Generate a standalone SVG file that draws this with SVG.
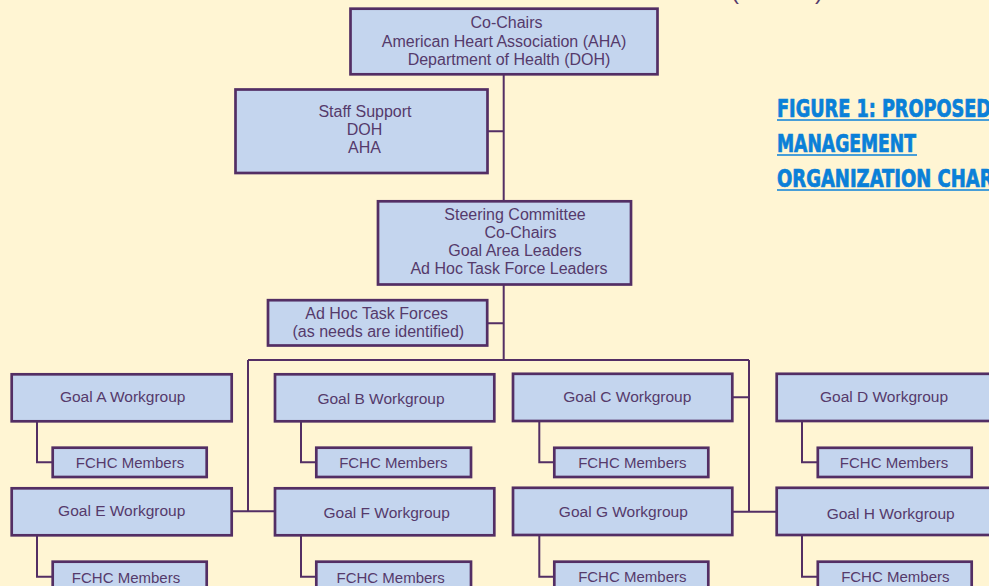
<svg xmlns="http://www.w3.org/2000/svg" width="989" height="586" viewBox="0 0 989 586">
<style>
.bg{fill:#FFF5D3}
.box{fill:#C4D5EE;stroke:#532E64;stroke-width:2.7}
.t{font-family:"Liberation Sans",Arial,sans-serif;fill:#553A6B;text-anchor:middle}
.t16{font-size:16px}
.t155{font-size:15.5px}
.t15{font-size:15px}
.conn{fill:none;stroke:#532E64;stroke-width:2}
.title{font-family:"DejaVu Sans Condensed","DejaVu Sans",sans-serif;font-weight:bold;font-size:24px;fill:#0A80D8;stroke:#0A80D8;stroke-width:0.7}
.ul{stroke:#0A80D8;stroke-width:1.6}
.par{font-family:"Liberation Sans",Arial,sans-serif;font-size:24px;fill:#553A6B}
</style>
<rect class="bg" x="0" y="0" width="989" height="586"/>
<text class="par" x="731" y="-1">(</text>
<text class="par" x="815" y="-1">)</text>
<g id="title">
<text class="title" x="777" y="117" textLength="214" lengthAdjust="spacingAndGlyphs">FIGURE 1: PROPOSED</text>
<line class="ul" x1="777" y1="120" x2="992" y2="120"/>
<text class="title" x="777" y="152" textLength="139" lengthAdjust="spacingAndGlyphs">MANAGEMENT</text>
<line class="ul" x1="777" y1="155" x2="917" y2="155"/>
<text class="title" x="777" y="187" textLength="228" lengthAdjust="spacingAndGlyphs">ORGANIZATION CHART</text>
<line class="ul" x1="777" y1="190" x2="1006" y2="190"/>
</g>
<g id="connectors">
<path class="conn" d="M503.7 74 V201.3 M503.7 284.5 V360"/>
<path class="conn" d="M487.5 131.3 H503.7 M487.5 323.3 H503.7"/>
<path class="conn" d="M248 360 H749 M248 360 V511.3 M749 360 V511.7"/>
<path class="conn" d="M231.7 511.3 H275 M732.3 397.3 H749 M732.3 511.7 H776.7"/>
<path class="conn" d="M37 421.3 V462.3 H52.7 M301 421.3 V462.3 H316.3 M539.3 421 V462.3 H554.3 M802 421 V462.3 H817.8"/>
<path class="conn" d="M37 535.3 V576.7 H52.7 M301 535.3 V576.7 H316.3 M539.3 535 V576.7 H554.3 M802 535 V576.7 H817.8"/>
</g>
<g id="cochairs">
<rect class="box" x="350.5" y="8.7" width="307" height="65.6"/>
<text class="t t16" x="506.5" y="28">Co-Chairs</text>
<text class="t t16" x="504" y="46.5">American Heart Association (AHA)</text>
<text class="t t16" x="509" y="65">Department of Health (DOH)</text>
</g>
<g id="staff">
<rect class="box" x="235.5" y="89.5" width="252" height="83.5"/>
<text class="t t16" x="365" y="117">Staff Support</text>
<text class="t t16" x="364.5" y="135">DOH</text>
<text class="t t16" x="364.5" y="153">AHA</text>
</g>
<g id="steering">
<rect class="box" x="378" y="201.3" width="253" height="83.2"/>
<text class="t t16" x="515" y="220">Steering Committee</text>
<text class="t t16" x="520.5" y="238">Co-Chairs</text>
<text class="t t16" x="515" y="256">Goal Area Leaders</text>
<text class="t t16" x="509" y="274">Ad Hoc Task Force Leaders</text>
</g>
<g id="adhoc">
<rect class="box" x="268" y="300.2" width="219.2" height="45.3"/>
<text class="t t16" x="376.7" y="318.5">Ad Hoc Task Forces</text>
<text class="t t16" x="378.3" y="336.5">(as needs are identified)</text>
</g>
<g id="goalA">
<rect class="box" x="11.7" y="374.3" width="220" height="47"/>
<text class="t t155" x="122.7" y="402">Goal A Workgroup</text>
</g>
<g id="fchcA">
<rect class="box" x="52.7" y="447.7" width="154" height="29.3"/>
<text class="t t15" x="130" y="467.5">FCHC Members</text>
</g>
<g id="goalB">
<rect class="box" x="275" y="374.3" width="219.3" height="47"/>
<text class="t t155" x="381" y="404">Goal B Workgroup</text>
</g>
<g id="fchcB">
<rect class="box" x="316.3" y="447.7" width="154.7" height="29.3"/>
<text class="t t15" x="393.3" y="467.5">FCHC Members</text>
</g>
<g id="goalC">
<rect class="box" x="513" y="373.8" width="219.3" height="47.2"/>
<text class="t t155" x="627.3" y="401.7">Goal C Workgroup</text>
</g>
<g id="fchcC">
<rect class="box" x="554.3" y="447.8" width="154" height="29.2"/>
<text class="t t15" x="632.3" y="468">FCHC Members</text>
</g>
<g id="goalD">
<rect class="box" x="776.7" y="373.8" width="240" height="47.2"/>
<text class="t t155" x="884" y="401.7">Goal D Workgroup</text>
</g>
<g id="fchcD">
<rect class="box" x="817.8" y="447.8" width="153.9" height="29.2"/>
<text class="t t15" x="894" y="468">FCHC Members</text>
</g>
<g id="goalE">
<rect class="box" x="11.7" y="488.3" width="220" height="47"/>
<text class="t t155" x="121.7" y="516">Goal E Workgroup</text>
</g>
<g id="fchcE">
<rect class="box" x="52.7" y="561.7" width="154" height="40"/>
<text class="t t15" x="126" y="583">FCHC Members</text>
</g>
<g id="goalF">
<rect class="box" x="275" y="488.3" width="219.3" height="47"/>
<text class="t t155" x="386.7" y="518">Goal F Workgroup</text>
</g>
<g id="fchcF">
<rect class="box" x="316.3" y="561.7" width="154.7" height="40"/>
<text class="t t15" x="390.7" y="583">FCHC Members</text>
</g>
<g id="goalG">
<rect class="box" x="513" y="487.8" width="219.3" height="47.2"/>
<text class="t t155" x="623.3" y="517">Goal G Workgroup</text>
</g>
<g id="fchcG">
<rect class="box" x="554.3" y="561.7" width="154" height="40"/>
<text class="t t15" x="632.3" y="582">FCHC Members</text>
</g>
<g id="goalH">
<rect class="box" x="776.7" y="487.8" width="240" height="47.2"/>
<text class="t t155" x="890.7" y="518.5">Goal H Workgroup</text>
</g>
<g id="fchcH">
<rect class="box" x="817.8" y="561.7" width="153.9" height="40"/>
<text class="t t15" x="895.3" y="582">FCHC Members</text>
</g>
</svg>
